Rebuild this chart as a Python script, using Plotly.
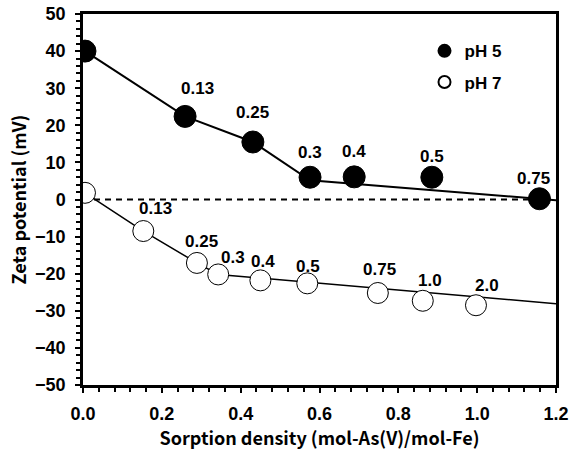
import plotly.graph_objects as go

# --- data ---
ph5_x = [0.005, 0.259, 0.431, 0.576, 0.688, 0.885, 1.158]
ph5_y = [40.0, 22.4, 15.5, 6.0, 6.1, 6.0, 0.2]
ph5_labels = ["", "0.13", "0.25", "0.3", "0.4", "0.5", "0.75"]

ph7_x = [0.005, 0.153, 0.289, 0.343, 0.450, 0.569, 0.748, 0.862, 0.997]
ph7_y = [1.8, -8.5, -17.1, -20.2, -21.8, -22.6, -25.2, -27.3, -28.5]
ph7_labels = ["", "0.13", "0.25", "0.3", "0.4", "0.5", "0.75", "1.0", "2.0"]

# trend lines drawn through the data
ph5_line_x = [0.005, 0.259, 0.431, 0.576, 1.2]
ph5_line_y = [40.0, 22.4, 15.5, 5.2, -0.2]
ph7_line_x = [0.005, 0.153, 0.289, 0.343, 1.2]
ph7_line_y = [1.8, -8.5, -17.1, -20.2, -28.1]

zero_x = [0.0, 1.2]
zero_y = [0.0, 0.0]

x_ticks = [0.0, 0.2, 0.4, 0.6, 0.8, 1.0, 1.2]
x_ticklabels = ["0.0", "0.2", "0.4", "0.6", "0.8", "1.0", "1.2"]
y_ticks = [-50, -40, -30, -20, -10, 0, 10, 20, 30, 40, 50]
y_ticklabels = ["\u221250", "\u221240", "\u221230", "\u221220", "\u221210", "0",
                "10", "20", "30", "40", "50"]

# label offsets (px) relative to each point: (dx, dy)
ph5_offsets = [(0, 0), (12, -28), (0, -30), (0, -25), (0, -25), (0, -21), (-6, -20)]
ph7_offsets = [(0, 0), (12, -23), (5, -21), (15, -17), (3, -19), (1, -17), (2, -23), (7, -20), (11, -20)]

FONT = "Liberation Sans, Arial, sans-serif"
CJK = "Noto Sans CJK JP, sans-serif"

fig = go.Figure()

fig.add_trace(go.Scatter(x=zero_x, y=zero_y, mode="lines",
                         line=dict(color="black", width=2, dash="6px,5px"),
                         showlegend=False, hoverinfo="skip"))
fig.add_trace(go.Scatter(x=ph5_line_x, y=ph5_line_y, mode="lines",
                         line=dict(color="black", width=2),
                         showlegend=False, hoverinfo="skip"))
fig.add_trace(go.Scatter(x=ph7_line_x, y=ph7_line_y, mode="lines",
                         line=dict(color="black", width=1.5),
                         showlegend=False, hoverinfo="skip"))
fig.add_trace(go.Scatter(x=ph5_x, y=ph5_y, mode="markers", name="pH 5",
                         legendgroup="a",
                         marker=dict(size=22, color="black",
                                     line=dict(color="black", width=1))))
fig.add_trace(go.Scatter(x=ph7_x, y=ph7_y, mode="markers", name="pH 7",
                         legendgroup="b",
                         marker=dict(size=21, color="white",
                                     line=dict(color="black", width=1))))

for xs, ys, labs, offs in [(ph5_x, ph5_y, ph5_labels, ph5_offsets),
                           (ph7_x, ph7_y, ph7_labels, ph7_offsets)]:
    for xv, yv, lab, (dx, dy) in zip(xs, ys, labs, offs):
        if not lab:
            continue
        fig.add_annotation(x=xv, y=yv, text=lab, showarrow=False,
                           xshift=dx, yshift=-dy,
                           font=dict(family=FONT, size=17, color="black", weight="bold"))

fig.update_layout(
    width=571, height=450,
    margin=dict(l=83, r=15, t=14, b=65),
    paper_bgcolor="white", plot_bgcolor="white",
    showlegend=True,
    legend=dict(x=0.722, y=0.948, xanchor="left", yanchor="top",
                bgcolor="rgba(0,0,0,0)", itemsizing="constant",
                tracegroupgap=6,
                font=dict(family=FONT, size=17, color="black", weight="bold")),
    font=dict(family=FONT, color="black"),
)

fig.update_xaxes(
    range=[0, 1.2], tickvals=x_ticks, ticktext=x_ticklabels,
    automargin=False, ticklabeloverflow="allow",
    showgrid=False, zeroline=False,
    showline=True, linecolor="black", linewidth=2.5, mirror=True,
    ticks="outside", ticklen=5, tickwidth=1.5, tickcolor="black",
    minor=dict(dtick=0.04, ticks="outside", ticklen=4, tickwidth=1.5, tickcolor="black"),
    tickfont=dict(family=FONT, size=18, color="black", weight="bold"),
    ticklabelstandoff=6,
    title=dict(text="Sorption density (mol-As(V)/mol-Fe)",
               font=dict(family=CJK, size=18, color="black", weight="bold"),
               standoff=6),
)
fig.update_yaxes(
    range=[-50, 50], tickvals=y_ticks, ticktext=y_ticklabels,
    automargin=False, ticklabeloverflow="allow",
    showgrid=False, zeroline=False,
    showline=True, linecolor="black", linewidth=2.5, mirror=True,
    ticks="outside", ticklen=5, tickwidth=1.5, tickcolor="black",
    minor=dict(dtick=2, ticks="outside", ticklen=4, tickwidth=1.5, tickcolor="black"),
    tickfont=dict(family=FONT, size=18, color="black", weight="bold"),
    ticklabelstandoff=6,
    title=dict(text="Zeta potential (mV)",
               font=dict(family=CJK, size=18, color="black", weight="bold"),
               standoff=4),
)

fig.write_html("out.html", config={"displayModeBar": False},
               post_script="document.body.style.margin='0';")
